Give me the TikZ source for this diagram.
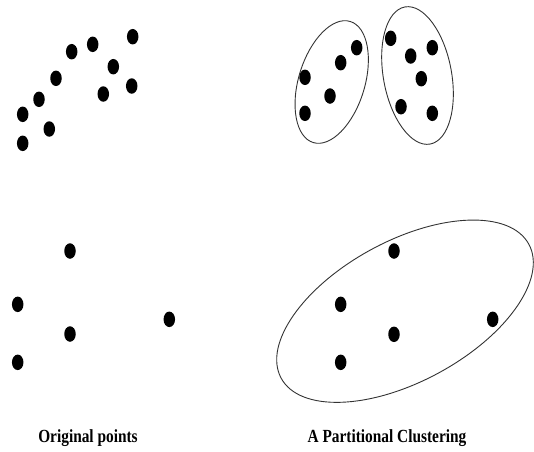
\documentclass[tikz,border=0pt]{standalone}
\usepackage{fontspec}
\setmainfont{Liberation Serif}
\usetikzlibrary{shapes.geometric}

\begin{document}
\begin{tikzpicture}[x=1pt,y=-1pt,
    pt/.style={ellipse,fill=black,inner sep=0pt,minimum width=11.5pt,minimum height=15.5pt},
    hull/.style={draw=black!80,line width=0.9pt},
    caption/.style={font=\bfseries\fontsize{18.5}{18.5}\selectfont,xscale=0.83}]
    \useasboundingbox (0,0) rectangle (534,451);
    % original points, top
    \foreach \x/\y [count=\i] in {132.7/36.7,92.7/44.3,71.7/51.7,113.3/66.7,56/78.3,131.7/86,
        103.3/94,39/99.3,22.7/114.3,49.3/129,22.7/143.3}
        \node[pt] (ta\i) at (\x,\y) {};
    % clustered points, top
    \foreach \x/\y [count=\i] in {356.7/47.7,340.7/62.7,305/77.3,330/96,305/113.3,390.7/38.3,
        410.7/56,432.3/47.7,421.3/78.7,401/106.7,432.3/113.3}
        \node[pt] (tb\i) at (\x,\y) {};
    % original points, bottom
    \foreach \x/\y [count=\i] in {70/251,17.7/304.3,169.3/319.3,70/334,17.7/362.3}
        \node[pt] (ba\i) at (\x,\y) {};
    % clustered points, bottom
    \foreach \x/\y [count=\i] in {394/251,340.7/304.3,492.7/319.3,394/334.3,340.7/362.3}
        \node[pt] (bb\i) at (\x,\y) {};

    % the clusters
    \draw[hull,rotate around={73:(331.7,82)}] (331.7,82) ellipse (63.3 and 33.1);
    \draw[hull,rotate around={100.4:(417.5,75.5)}] (417.5,75.5) ellipse (69.7 and 34.1);
    \draw[hull,rotate around={28.4:(405,311.2)}] (405,311.2) ellipse (140.8 and 70.3);

    \node[caption] (orig) at (88,438) {Original points};
    \node[caption] (part) at (387,438) {A Partitional Clustering};
\end{tikzpicture}
\end{document}
